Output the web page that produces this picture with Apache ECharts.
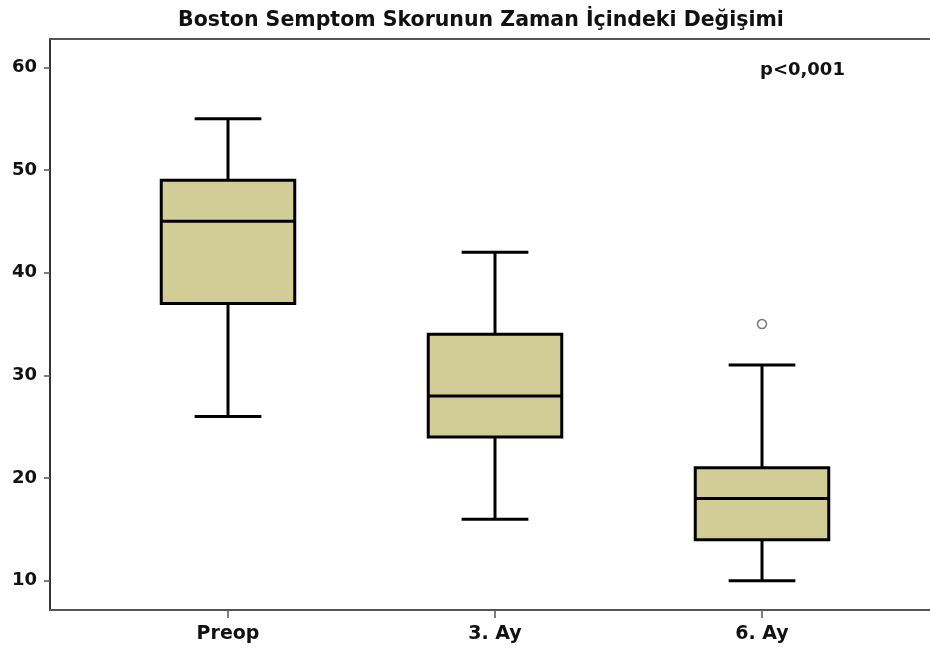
<!DOCTYPE html>
<html>
<head>
<meta charset="utf-8">
<script src="https://cdn.jsdelivr.net/npm/echarts@6/dist/echarts.min.js"></script>
<style>
  html, body { margin: 0; padding: 0; background: #fff; }
  #chart { width: 930px; height: 650px; }
</style>
</head>
<body>
<div id="chart"></div>
<script>
// categories and box stats
var categories = ['Preop', '3. Ay', '6. Ay'];
var whiskerLow = [26, 16, 10];
var q1 = [37, 24, 14];
var median = [45, 28, 18];
var q3 = [49, 34, 21];
var whiskerHigh = [55, 42, 31];
var outliers = [[2, 35]];
var yTicks = [10, 20, 30, 40, 50, 60];

var yMin = 7.15, yMax = 62.76;
var fontFam = '"DejaVu Sans", Arial, sans-serif';

var boxData = [];
for (var i = 0; i < categories.length; i++) {
    boxData.push([i, whiskerLow[i], q1[i], median[i], q3[i], whiskerHigh[i]]);
}

function renderBox(params, api) {
    var idx = api.value(0);
    var band = api.size([1, 0])[0];
    var half = band * 0.25;
    var cap = band * 0.125;
    var pLow = api.coord([idx, api.value(1)]);
    var pQ1 = api.coord([idx, api.value(2)]);
    var pMed = api.coord([idx, api.value(3)]);
    var pQ3 = api.coord([idx, api.value(4)]);
    var pHigh = api.coord([idx, api.value(5)]);
    var cx = pMed[0];
    var lineStyle = { stroke: '#000', lineWidth: 3, fill: null };
    return {
        type: 'group',
        children: [
            { type: 'line', shape: { x1: cx, y1: pLow[1], x2: cx, y2: pQ1[1] }, style: lineStyle },
            { type: 'line', shape: { x1: cx, y1: pQ3[1], x2: cx, y2: pHigh[1] }, style: lineStyle },
            { type: 'line', shape: { x1: cx - cap, y1: pLow[1], x2: cx + cap, y2: pLow[1] }, style: lineStyle },
            { type: 'line', shape: { x1: cx - cap, y1: pHigh[1], x2: cx + cap, y2: pHigh[1] }, style: lineStyle },
            { type: 'rect', shape: { x: cx - half, y: pQ3[1], width: half * 2, height: pQ1[1] - pQ3[1] },
              style: { fill: '#d2cd96', stroke: '#000', lineWidth: 3 } },
            { type: 'line', shape: { x1: cx - half, y1: pMed[1], x2: cx + half, y2: pMed[1] }, style: lineStyle }
        ]
    };
}

var chart = echarts.init(document.getElementById('chart'));
chart.setOption({
    animation: false,
    backgroundColor: '#fff',
    title: {
        text: 'Boston Semptom Skorunun Zaman İçindeki Değişimi',
        left: 476,
        textAlign: 'center',
        top: 5,
        textStyle: { fontFamily: fontFam, fontSize: 20.5, fontWeight: 'bold', color: '#111' }
    },
    graphic: [{
        type: 'text',
        left: 760,
        top: 61,
        style: { text: 'p<0,001', fontFamily: fontFam, fontSize: 18, fontWeight: 'bold', fill: '#111' }
    }],
    grid: [
        { left: 50, right: 0, top: 39, bottom: 40, containLabel: false },
        { left: 94.5, right: 34.5, top: 39, bottom: 40, containLabel: false }
    ],
    xAxis: [
        {
            gridIndex: 0, type: 'value', min: 0, max: 1, position: 'bottom',
            axisLine: { show: true, lineStyle: { color: '#555', width: 2 } },
            axisTick: { show: false }, axisLabel: { show: false }, splitLine: { show: false }
        },
        {
            gridIndex: 0, type: 'value', min: 0, max: 1, position: 'top',
            axisLine: { show: true, lineStyle: { color: '#555', width: 2 } },
            axisTick: { show: false }, axisLabel: { show: false }, splitLine: { show: false }
        },
        {
            gridIndex: 1,
            type: 'category',
            data: categories,
            boundaryGap: true,
            axisLine: { show: false },
            axisTick: { show: true, alignWithLabel: true, length: 8, lineStyle: { color: '#555', width: 1.5 } },
            axisLabel: { margin: 15, fontFamily: fontFam, fontSize: 19, fontWeight: 'bold', color: '#111' }
        }
    ],
    yAxis: [
        {
            gridIndex: 0,
            type: 'value',
            min: yMin,
            max: yMax,
            splitLine: { show: false },
            axisLine: { show: true, lineStyle: { color: '#333', width: 2 } },
            axisTick: { show: true, length: 6, customValues: yTicks, lineStyle: { color: '#555', width: 1.5 } },
            axisLabel: { customValues: yTicks, margin: 13, fontFamily: fontFam, fontSize: 18, fontWeight: 'bold', color: '#111' }
        },
        { gridIndex: 1, type: 'value', min: yMin, max: yMax, show: false }
    ],
    series: [
        {
            type: 'custom',
            xAxisIndex: 2,
            yAxisIndex: 1,
            renderItem: renderBox,
            encode: { x: 0, y: [1, 2, 3, 4, 5] },
            data: boxData,
            z: 5
        },
        {
            type: 'scatter',
            xAxisIndex: 2,
            yAxisIndex: 1,
            symbol: 'circle',
            symbolSize: 9,
            itemStyle: { color: '#fff', borderColor: '#555', borderWidth: 1.5 },
            data: outliers,
            z: 6
        }
    ]
});
</script>
</body>
</html>
